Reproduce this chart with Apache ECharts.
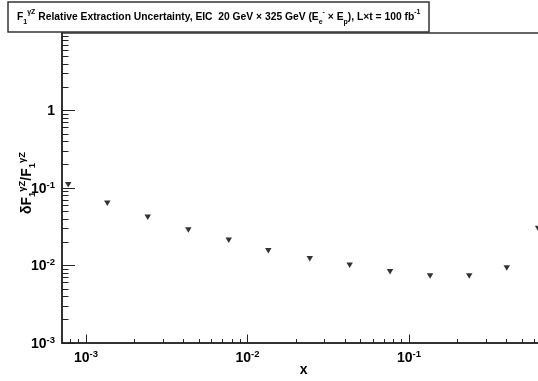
<!DOCTYPE html>
<html><head><meta charset="utf-8">
<script src="https://cdn.jsdelivr.net/npm/echarts@6/dist/echarts.min.js"></script>
<style>html,body{margin:0;padding:0;background:#fff}#c{width:538px;height:381px}</style>
</head><body><div id="c"></div>
<script>
// ---- data ----
var xValues = [7.76e-4, 1.355e-3, 2.41e-3, 4.30e-3, 7.65e-3, 1.345e-2, 2.43e-2, 4.29e-2, 7.63e-2, 0.135, 0.236, 0.403, 0.63];
var yValues = [0.110, 0.0635, 0.0419, 0.0287, 0.0211, 0.0155, 0.01225, 0.0101, 0.00832, 0.00732, 0.00732, 0.00928, 0.030];
var xTickValues = [1e-3, 1e-2, 1e-1];
var xTickLabels = ['10^-3', '10^-2', '10^-1'];
var yTickValues = [1e-3, 1e-2, 1e-1, 1];
var yTickLabels = ['10^-3', '10^-2', '10^-1', '1'];
var xMin = 7.1e-4, xMax = 0.70, yMin = 1e-3, yMax = 10;

function minorTicks(lo, hi) {
  var out = [];
  for (var d = Math.floor(Math.log10(lo)); d <= Math.ceil(Math.log10(hi)); d++) {
    for (var m = 2; m <= 9; m++) {
      var v = m * Math.pow(10, d);
      if (v > lo && v < hi) out.push(v);
    }
  }
  return out;
}
function fmt(values, labels) {
  return function (v) {
    var best = 0, bd = Infinity;
    for (var i = 0; i < values.length; i++) {
      var d = Math.abs(Math.log10(v) - Math.log10(values[i]));
      if (d < bd) { bd = d; best = i; }
    }
    var s = labels[best];
    var p = s.split('^');
    return p.length > 1 ? '{b|' + p[0] + '}{s|' + p[1] + '}' : '{b|' + p[0] + '}';
  };
}
var FONT = 'Liberation Sans';
var labelRich = {
  b: { fontFamily: FONT, fontWeight: 'bold', fontSize: 14, color: '#000', lineHeight: 16, verticalAlign: 'bottom' },
  s: { fontFamily: FONT, fontWeight: 'bold', fontSize: 9.5, color: '#000', lineHeight: 10, verticalAlign: 'top' }
};
var data = xValues.map(function (x, i) { return [x, yValues[i]]; });

var chart = echarts.init(document.getElementById('c'), null, { renderer: 'canvas' });
chart.setOption({
  animation: false,
  backgroundColor: '#fff',
  grid: { left: 62, top: 33, width: 483.5, height: 310, show: true, borderColor: '#333', borderWidth: 1.5,
          containLabel: false, outerBoundsMode: 'none' },
  xAxis: [{
    type: 'log', min: xMin, max: xMax, position: 'bottom',
    axisLine: { show: true, lineStyle: { color: '#222', width: 1.5 } },
    axisTick: { show: true, inside: true, length: 8.5, customValues: xTickValues, lineStyle: { color: '#222', width: 1 } },
    axisLabel: { show: true, customValues: xTickValues, formatter: fmt(xTickValues, xTickLabels), rich: labelRich, margin: 6 },
    splitLine: { show: false }, minorTick: { show: false },
    name: 'x', nameLocation: 'middle', nameGap: 20, nameMoveOverlap: false,
    nameTextStyle: { fontFamily: FONT, fontWeight: 'bold', fontSize: 14, color: '#000' }
  }, {
    type: 'log', min: xMin, max: xMax, position: 'bottom',
    axisLine: { show: false },
    axisTick: { show: true, inside: true, length: 4, customValues: minorTicks(xMin, xMax), lineStyle: { color: '#222', width: 1 } },
    axisLabel: { show: false }, splitLine: { show: false }
  }],
  yAxis: [{
    type: 'log', min: yMin, max: yMax, position: 'left',
    axisLine: { show: true, lineStyle: { color: '#222', width: 1.5 } },
    axisTick: { show: true, inside: true, length: 13, customValues: yTickValues, lineStyle: { color: '#222', width: 1 } },
    axisLabel: { show: true, customValues: yTickValues, formatter: fmt(yTickValues, yTickLabels), rich: labelRich, margin: 7 },
    splitLine: { show: false },
    name: '{n|δF}{sb|1}{sp|γZ}{n|/F}{sb|1}{sp|γZ}', nameLocation: 'middle', nameRotate: 90, nameGap: 25, nameMoveOverlap: false,
    nameTextStyle: {
      padding: [0, 0, 0, 10],
      rich: {
        n: { fontFamily: FONT, fontWeight: 'bold', fontSize: 14, color: '#000', lineHeight: 20, verticalAlign: 'middle' },
        sb: { fontFamily: FONT, fontWeight: 'bold', fontSize: 9.5, color: '#000', lineHeight: 10, verticalAlign: 'bottom' },
        sp: { fontFamily: FONT, fontWeight: 'bold', fontSize: 9.5, color: '#000', lineHeight: 10, verticalAlign: 'top' }
      }
    }
  }, {
    type: 'log', min: yMin, max: yMax, position: 'left',
    axisLine: { show: false },
    axisTick: { show: true, inside: true, length: 6.5, customValues: minorTicks(yMin, yMax), lineStyle: { color: '#222', width: 1 } },
    axisLabel: { show: false }, splitLine: { show: false }
  }],
  series: [{
    type: 'scatter', xAxisIndex: 0, yAxisIndex: 0, data: data,
    symbol: 'triangle', symbolRotate: 180, symbolSize: [6.5, 5.5],
    itemStyle: { color: '#000' }, silent: true
  }],
  graphic: [{
    type: 'rect', z: 100, shape: { x: 8, y: 2, width: 421, height: 30 },
    style: { fill: '#fff', stroke: '#333', lineWidth: 1.5 }
  }, {
    type: 'text', z: 101, x: 17, y: 17,
    style: {
      text: '{n|F}{sb|1}{sp|γZ}{n| Relative Extraction Uncertainty, EIC  20 GeV × 325 GeV (E}{sb|e}{sp|-}{n| × E}{sb|p}{n|), L×t = 100 fb}{sp|-1}',
      verticalAlign: 'middle', align: 'left',
      rich: {
        n: { fontFamily: FONT, fontWeight: 'bold', fontSize: 10.3, fill: '#000', lineHeight: 17, verticalAlign: 'middle' },
        sb: { fontFamily: FONT, fontWeight: 'bold', fontSize: 7, fill: '#000', lineHeight: 7, verticalAlign: 'bottom' },
        sp: { fontFamily: FONT, fontWeight: 'bold', fontSize: 7, fill: '#000', lineHeight: 7, verticalAlign: 'top' }
      }
    }
  }]
});
</script></body></html>
